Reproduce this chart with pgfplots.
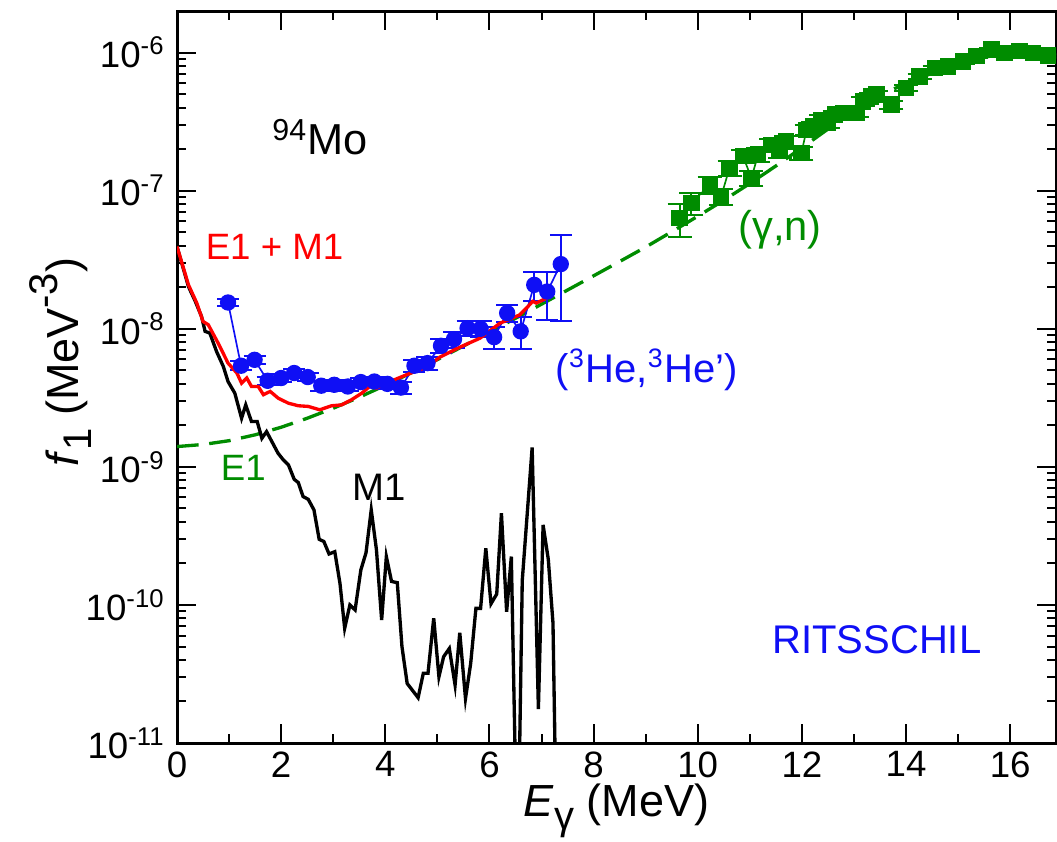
\documentclass[border=0pt]{standalone}
\usepackage{fontspec}
\setmainfont{Liberation Sans}
\usepackage{pgfplots}
\usepackage{pgfplotstable}
\pgfplotsset{compat=1.18}

\definecolor{dgreen}{RGB}{0,140,0}
\definecolor{pblue}{RGB}{15,15,245}
\definecolor{pred}{RGB}{255,0,0}

% E1 strength from the GLO fit (dashed)
\pgfplotstableread{
x y
0.0 1.403e-9
0.5 1.452e-9
1.0 1.547e-9
1.5 1.706e-9
2.0 1.936e-9
2.5 2.249e-9
3.0 2.658e-9
3.5 3.195e-9
4.0 3.896e-9
4.5 4.803e-9
5.0 5.978e-9
5.5 7.499e-9
6.0 9.441e-9
6.5 1.191e-8
7.0 1.507e-8
7.5 1.908e-8
8.0 2.418e-8
8.5 3.069e-8
9.0 3.904e-8
9.5 5.04e-8
10.0 6.53e-8
10.5 8.53e-8
11.0 1.127e-7
11.5 1.510e-7
12.0 2.046e-7
12.5 2.793e-7
13.0 3.75e-7
13.5 4.95e-7
14.0 5.95e-7
14.5 7.10e-7
15.0 8.30e-7
15.5 9.30e-7
16.0 9.80e-7
16.5 9.80e-7
16.9 9.50e-7
}\eone

% M1 strength
\pgfplotstableread{
x y
0.00 3.94e-8
0.22 2.02e-8
0.35 1.585e-8
0.47 1.23e-8
0.54 9.57e-9
0.63 9.31e-9
0.76 6.84e-9
0.89 5.33e-9
0.98 4.15e-9
1.11 3.42e-9
1.24 2.25e-9
1.32 2.81e-9
1.43 2.13e-9
1.54 2.13e-9
1.63 1.61e-9
1.72 1.80e-9
1.94 1.256e-9
2.04 1.125e-9
2.14 1.033e-9
2.25 8.13e-10
2.33 7.69e-10
2.42 6.10e-10
2.52 5.82e-10
2.63 4.88e-10
2.73 2.99e-10
2.82 2.88e-10
2.92 2.34e-10
3.03 2.43e-10
3.13 1.43e-10
3.22 6.78e-11
3.32 1.0e-10
3.42 9.2e-11
3.53 1.79e-10
3.63 2.39e-10
3.73 4.88e-10
3.83 2.51e-10
3.93 7.78e-11
4.02 2.24e-10
4.12 1.48e-10
4.23 1.45e-10
4.32 4.99e-11
4.42 2.70e-11
4.63 2.13e-11
4.73 3.20e-11
4.82 3.20e-11
4.93 8.02e-11
5.03 3.02e-11
5.12 4.22e-11
5.23 4.84e-11
5.34 2.63e-11
5.43 6.30e-11
5.54 2.10e-11
5.64 3.78e-11
5.74 9.44e-11
5.83 9.44e-11
5.93 2.57e-10
6.03 1.02e-10
6.14 1.20e-10
6.23 4.61e-10
6.33 8.93e-11
6.42 2.24e-10
6.54 1e-12
6.63 1.50e-10
6.82 1.38e-9
6.94 1.76e-11
7.03 3.80e-10
7.13 2.14e-10
7.22 7.4e-11
7.30 1e-12
}\mone

% E1 + M1
\pgfplotstableread{
x y
0.00 3.94e-8
0.22 2.08e-8
0.38 1.535e-8
0.50 1.13e-8
0.60 1.07e-8
0.79 7.87e-9
0.98 5.64e-9
1.15 4.78e-9
1.24 4.04e-9
1.34 4.40e-9
1.43 3.82e-9
1.56 3.82e-9
1.66 3.33e-9
1.79 3.52e-9
1.94 3.15e-9
2.14 2.89e-9
2.33 2.77e-9
2.52 2.74e-9
2.74 2.59e-9
2.97 2.77e-9
3.16 2.81e-9
3.35 3.06e-9
3.55 3.42e-9
3.70 3.82e-9
3.83 3.72e-9
4.02 4.04e-9
4.41 4.65e-9
4.79 5.27e-9
5.05 6.24e-9
5.43 7.35e-9
5.82 8.55e-9
6.20 1.096e-8
6.33 1.15e-8
6.58 1.26e-8
6.74 1.45e-8
6.83 1.58e-8
6.90 1.535e-8
7.22 1.76e-8
}\sum

% (3He,3He') data
\pgfplotstableread{
x y e
0.98 1.55e-8 0.8e-9
1.23 5.40e-9 0.4e-9
1.49 5.96e-9 0.4e-9
1.74 4.20e-9 0.3e-9
2.00 4.40e-9 0.3e-9
2.25 4.78e-9 0.3e-9
2.51 4.47e-9 0.3e-9
2.77 3.87e-9 0.3e-9
3.02 3.93e-9 0.3e-9
3.28 3.82e-9 0.3e-9
3.53 4.11e-9 0.3e-9
3.79 4.15e-9 0.3e-9
4.04 3.99e-9 0.3e-9
4.30 3.75e-9 0.4e-9
4.56 5.40e-9 0.5e-9
4.81 5.64e-9 0.6e-9
5.07 7.53e-9 0.9e-9
5.32 8.41e-9 1.1e-9
5.58 1.01e-8 1.2e-9
5.83 1.00e-8 1.3e-9
6.09 8.70e-9 1.6e-9
6.34 1.30e-8 1.8e-9
6.60 9.58e-9 2.5e-9
6.86 2.08e-8 5.0e-9
7.11 1.86e-8 7.0e-9
7.37 2.94e-8 1.8e-8
}\hedata

% (gamma,n) data
\pgfplotstableread{
x y e
9.65 6.34e-8 1.7e-8
9.88 8.15e-8 1.5e-8
10.23 1.10e-7 1.5e-8
10.45 9.10e-8 1.2e-8
10.61 1.459e-7 1.8e-8
10.87 1.774e-7 2.0e-8
11.03 1.236e-7 1.5e-8
11.16 1.824e-7 2.0e-8
11.41 2.153e-7 2.2e-8
11.57 1.928e-7 2.0e-8
11.70 2.275e-7 2.2e-8
11.99 1.871e-7 2.0e-8
12.09 2.761e-7 2.2e-8
12.21 2.924e-7 2.2e-8
12.37 3.266e-7 2.5e-8
12.50 3.09e-7 2.5e-8
12.63 3.556e-7 2.5e-8
12.79 3.656e-7 2.5e-8
13.05 3.656e-7 2.5e-8
13.17 4.436e-7 3e-8
13.33 4.82e-7 3e-8
13.43 4.966e-7 3e-8
13.72 4.198e-7 3e-8
14.00 5.534e-7 3e-8
14.26 6.73e-7 3e-8
14.55 7.73e-7 3e-8
14.80 7.94e-7 3e-8
15.09 8.63e-7 3e-8
15.35 9.40e-7 3e-8
15.64 1.052e-6 3e-8
15.89 9.95e-7 3e-8
16.18 1.023e-6 3e-8
16.44 9.95e-7 3e-8
16.72 9.51e-7 3e-8
}\gndata

\begin{document}
\begin{tikzpicture}
\begin{axis}[
  name=ax,
  scale only axis,
  width=263.7pt, height=219.6pt,
  xmin=0, xmax=16.88,
  ymode=log, ymin=1e-11, ymax=2e-6,
  xtick={0,2,...,16},
  minor x tick num=1,
  ytick={1e-11,1e-10,1e-9,1e-8,1e-7,1e-6},
  yticklabels={10\textsuperscript{-11},10\textsuperscript{-10},10\textsuperscript{-9},10\textsuperscript{-8},10\textsuperscript{-7},10\textsuperscript{-6}},
  /pgf/number format/assume math mode=true,
  tick align=inside,
  major tick length=5.7pt,
  minor tick length=2.8pt,
  every tick/.style={black, line width=0.6pt},
  axis line style={line width=0.9pt},
  tick label style={font=\fontsize{11}{13}\selectfont},
  xticklabel style={yshift=1pt},
  xlabel={\textit{E}\raisebox{-0.55ex}{\fontsize{12}{14}\selectfont γ} (MeV)},
  ylabel={\textit{f}\raisebox{-0.55ex}{\fontsize{12}{14}\selectfont 1} (MeV\raisebox{0.9ex}{\fontsize{12}{14}\selectfont -3})},
  every axis x label/.style={at={(axis description cs:0.5,0)}, anchor=base, yshift=-22pt, font=\fontsize{13.5}{16}\selectfont},
  every axis y label/.style={at={(axis description cs:-0.112,0.52)}, rotate=90, anchor=base, font=\fontsize{13.5}{16}\selectfont},
  clip=true,
]
% E1 (GLO)
\addplot[dgreen, line width=1pt, dash pattern=on 6.5pt off 3.2pt] table[x=x,y=y]{\eone};
% M1
\addplot[black, line width=1pt] table[x=x,y=y]{\mone};
% (3He,3He') data
\addplot[pblue, line width=0.5pt, mark=*, mark size=2.2pt,
  mark options={solid, fill=pblue, draw=pblue},
  error bars/.cd, y dir=both, y explicit,
  error bar style={line width=0.6pt, pblue},
  error mark options={line width=0.6pt, pblue, mark size=3.3pt, rotate=90}]
  table[x=x, y=y, y error=e]{\hedata};
% (gamma,n) data
\addplot[dgreen, line width=0.5pt, mark=square*, mark size=2.2pt,
  mark options={solid, fill=dgreen, draw=dgreen},
  error bars/.cd, y dir=both, y explicit,
  error bar style={line width=0.6pt, dgreen},
  error mark options={line width=0.6pt, dgreen, mark size=3.6pt, rotate=90}]
  table[x=x, y=y, y error=e]{\gndata};
% E1 + M1
\addplot[pred, line width=1pt] table[x=x,y=y]{\sum};

\begin{scope}[every node/.style={inner sep=0pt}]
\node[anchor=base west, font=\fontsize{13}{15}\selectfont] at (axis cs:1.82,1.82e-7) {\textsuperscript{94}Mo};
\node[anchor=west, font=\fontsize{11}{13}\selectfont, text=pred] at (axis cs:0.54,3.93e-8) {E1 + M1};
\node[anchor=west, font=\fontsize{11}{13}\selectfont, text=dgreen] at (axis cs:0.83,9.85e-10) {E1};
\node[anchor=west, font=\fontsize{11.5}{13}\selectfont, text=black] at (axis cs:3.36,7.16e-10) {M1};
\node[anchor=west, font=\fontsize{12.5}{14}\selectfont, text=dgreen] at (axis cs:10.77,5.2e-8) {(γ,n)};
\node[anchor=west, font=\fontsize{12}{14}\selectfont, text=pblue] at (axis cs:7.26,5.04e-9) {(\textsuperscript{3}He,\textsuperscript{3}He’)};
\node[anchor=west, font=\fontsize{12}{14}\selectfont, text=pblue] at (axis cs:11.42,5.57e-11) {RITSSCHIL};
\end{scope}
\end{axis}
\pgfresetboundingbox
\path[use as bounding box] ([shift={(-53.1pt,-29.4pt)}]ax.south west) rectangle ([shift={(0.3pt,3.3pt)}]ax.north east);
\end{tikzpicture}
\end{document}
